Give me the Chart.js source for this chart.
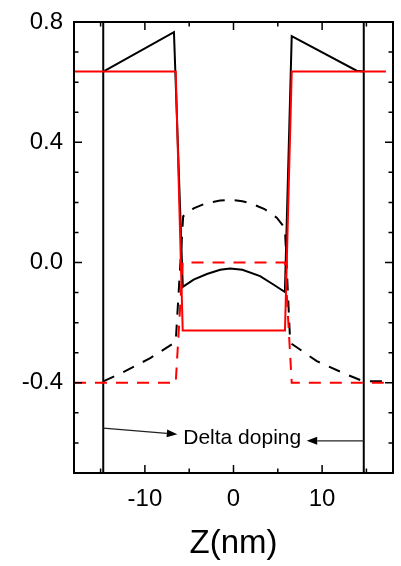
<!DOCTYPE html>
<html><head><meta charset="utf-8">
<script src="https://cdn.jsdelivr.net/npm/chart.js"></script>
<style>html,body{margin:0;padding:0;background:#fff}canvas{display:block}</style>
</head><body>
<canvas id="c" width="401" height="566"></canvas>
<script>
const FONT = '"Liberation Sans", Arial, sans-serif';
const xMin = -18, xMax = 18, yMin = -0.7, yMax = 0.8;
const xTickValues = [-15, -10, -5, 0, 5, 10, 15];
const xTickLabels = ['', '-10', '', '0', '', '10', ''];
const yTickValues = [-0.7, -0.6, -0.5, -0.4, -0.3, -0.2, -0.1, 0, 0.1, 0.2, 0.3, 0.4, 0.5, 0.6, 0.7, 0.8];
const yTickLabels = ['', '', '', '-0.4', '', '', '', '0.0', '', '', '', '0.4', '', '', '', '0.8'];

// black solid curve
const blackSolidX = [-14.7, -6.72, -5.72, -4.5, -3, -1.5, -0.4, 1, 3, 4.5, 5.8, 6.57, 13.9, 14.7];
const blackSolidY = [0.635, 0.766, -0.081, -0.057, -0.038, -0.024, -0.02, -0.024, -0.045, -0.073, -0.098, 0.753, 0.638, 0.635];
// black dashed curve
const blackDashX = [-14.7, -12.8, -9.4, -6.52, -5.68, -4.5, -3.03, -1.5, -0.4, 1, 1.86, 3.5, 4.88, 5.8, 6.4, 9.4, 12.8, 14.65, 17.1];
const blackDashY = [-0.395, -0.370, -0.318, -0.264, 0.154, 0.180, 0.198, 0.206, 0.209, 0.204, 0.198, 0.178, 0.149, 0.115, -0.267, -0.328, -0.373, -0.395, -0.395];
// red solid curve
const redSolidX = [-18, -6.52, -5.73, 5.81, 6.57, 17.2];
const redSolidY = [0.635, 0.635, -0.226, -0.226, 0.635, 0.635];
// red dashed curve
const redDashX = [-18, -6.52, -5.73, 5.81, 6.57, 17.2];
const redDashY = [-0.4, -0.4, 0, 0, -0.4, -0.4];
// delta doping planes
const deltaX = [-14.7, 14.7];

// annotation (data units)
const annotText = 'Delta doping';
const annotTextPos = [-5.67, -0.605];
const arrowLeft = [-14.7, -0.551, -6.34, -0.571];
const arrowRight = [14.7, -0.593, 8.26, -0.593];

const pts = (xs, ys) => xs.map((x, i) => ({x, y: ys[i]}));

const datasets = [
  {data: pts(redSolidX, redSolidY), borderColor: '#ff0000', borderWidth: 2, order: 0},
  {data: pts(redDashX, redDashY), borderColor: '#ff0000', borderWidth: 2, borderDash: [12, 9], order: 0},
  {data: pts(blackSolidX, blackSolidY), borderColor: '#000', borderWidth: 2, order: 1},
  {data: pts(blackDashX, blackDashY), borderColor: '#000', borderWidth: 2, borderDash: [12, 10], order: 1},
  ...deltaX.map(v => ({data: [{x: v, y: yMin}, {x: v, y: yMax}], borderColor: '#000', borderWidth: 2, order: 2}))
].map(d => Object.assign({showLine: true, pointRadius: 0, fill: false, tension: 0}, d));

const frameTicks = {
  id: 'frameTicks',
  afterDatasetsDraw(chart) {
    const {ctx, chartArea: a, scales: {x, y}} = chart;
    ctx.save();
    ctx.strokeStyle = '#000';
    ctx.lineWidth = 1.5;
    ctx.beginPath();
    xTickValues.forEach((v, i) => {
      const px = x.getPixelForValue(v);
      const L = xTickLabels[i] ? 8 : 4.5;
      ctx.moveTo(px, a.bottom); ctx.lineTo(px, a.bottom - L);
      ctx.moveTo(px, a.top); ctx.lineTo(px, a.top + L);
    });
    yTickValues.forEach((v, i) => {
      const py = y.getPixelForValue(v);
      const L = yTickLabels[i] ? 8 : 4.5;
      ctx.moveTo(a.left, py); ctx.lineTo(a.left + L, py);
      ctx.moveTo(a.right, py); ctx.lineTo(a.right - L, py);
    });
    ctx.stroke();
    ctx.lineWidth = 2;
    ctx.strokeRect(a.left, a.top, a.right - a.left, a.bottom - a.top);
    ctx.restore();
  }
};

const annot = {
  id: 'annot',
  afterDatasetsDraw(chart) {
    const {ctx, scales: {x, y}} = chart;
    const arrow = (v) => {
      const x0 = x.getPixelForValue(v[0]), y0 = y.getPixelForValue(v[1]);
      const x1 = x.getPixelForValue(v[2]), y1 = y.getPixelForValue(v[3]);
      const ang = Math.atan2(y1 - y0, x1 - x0);
      const hl = 10.5, hw = 4;
      const bx = x1 - hl * Math.cos(ang), by = y1 - hl * Math.sin(ang);
      ctx.beginPath();
      ctx.moveTo(x0, y0); ctx.lineTo(bx, by);
      ctx.stroke();
      ctx.beginPath();
      ctx.moveTo(x1, y1);
      ctx.lineTo(bx + hw * Math.sin(ang), by - hw * Math.cos(ang));
      ctx.lineTo(bx - hw * Math.sin(ang), by + hw * Math.cos(ang));
      ctx.closePath();
      ctx.fill();
    };
    ctx.save();
    ctx.strokeStyle = '#222'; ctx.fillStyle = '#000'; ctx.lineWidth = 1.2;
    arrow(arrowLeft);
    arrow(arrowRight);
    ctx.font = '21px ' + FONT;
    ctx.textAlign = 'left'; ctx.textBaseline = 'alphabetic';
    ctx.fillText(annotText, x.getPixelForValue(annotTextPos[0]), y.getPixelForValue(annotTextPos[1]));
    ctx.restore();
  }
};

new Chart(document.getElementById('c'), {
  type: 'scatter',
  data: {datasets},
  plugins: [frameTicks, annot],
  options: {
    responsive: false, animation: false, devicePixelRatio: 1,
    layout: {padding: {top: 22, right: 8, left: 0, bottom: 0}},
    plugins: {legend: {display: false}, tooltip: {enabled: false}},
    scales: {
      x: {
        type: 'linear', min: xMin, max: xMax,
        afterBuildTicks: s => { s.ticks = xTickValues.map(v => ({value: v})); },
        afterFit: s => { s.height = 93; s.paddingLeft = 0; s.paddingRight = 0; },
        grid: {display: false, drawTicks: false}, border: {display: false},
        ticks: {autoSkip: false, maxRotation: 0, padding: 12, color: '#000',
          font: {family: FONT, size: 24},
          callback: (v, i) => xTickLabels[i]},
        title: {display: true, text: 'Z(nm)', color: '#000', font: {family: FONT, size: 33}, padding: {top: 0, bottom: 2}}
      },
      y: {
        type: 'linear', min: yMin, max: yMax,
        afterBuildTicks: s => { s.ticks = yTickValues.map(v => ({value: v})); },
        afterFit: s => { s.width = 74; s.paddingTop = 0; s.paddingBottom = 0; },
        grid: {display: false, drawTicks: false}, border: {display: false},
        ticks: {autoSkip: false, padding: 11, color: '#000',
          font: {family: FONT, size: 24},
          callback: (v, i) => yTickLabels[i]}
      }
    }
  }
});
</script>
</body></html>
